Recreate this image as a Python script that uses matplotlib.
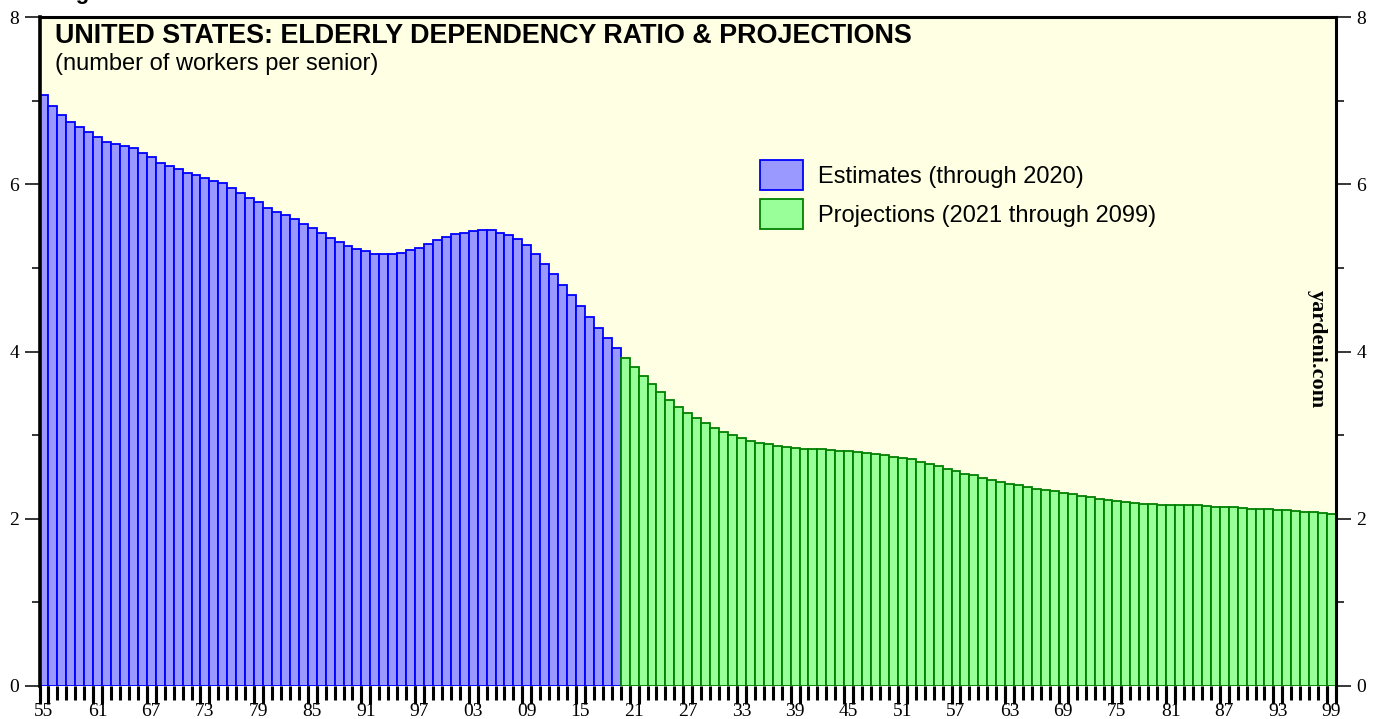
import numpy as np
import matplotlib.pyplot as plt

# elderly dependency ratio: workers per senior
est_years = np.arange(1955, 2020)
est_ratio = [7.07, 6.94, 6.83, 6.74, 6.68, 6.63, 6.56, 6.51, 6.48, 6.46,
             6.43, 6.37, 6.32, 6.26, 6.22, 6.18, 6.14, 6.11, 6.07, 6.04,
             6.02, 5.95, 5.90, 5.84, 5.79, 5.72, 5.67, 5.63, 5.58, 5.53,
             5.48, 5.42, 5.36, 5.31, 5.26, 5.23, 5.20, 5.17, 5.16, 5.17,
             5.18, 5.21, 5.24, 5.28, 5.33, 5.37, 5.40, 5.42, 5.44, 5.45,
             5.45, 5.42, 5.39, 5.34, 5.27, 5.17, 5.05, 4.93, 4.80, 4.67,
             4.54, 4.41, 4.28, 4.16, 4.04]

proj_years = np.arange(2020, 2100)
proj_ratio = [3.92, 3.81, 3.71, 3.61, 3.52, 3.42, 3.34, 3.27, 3.20, 3.14,
              3.09, 3.04, 3.00, 2.96, 2.93, 2.91, 2.89, 2.87, 2.86, 2.85,
              2.84, 2.83, 2.83, 2.82, 2.81, 2.81, 2.80, 2.79, 2.78, 2.76,
              2.74, 2.73, 2.71, 2.68, 2.66, 2.63, 2.60, 2.57, 2.54, 2.52,
              2.49, 2.46, 2.44, 2.42, 2.40, 2.38, 2.36, 2.34, 2.33, 2.31,
              2.29, 2.27, 2.26, 2.24, 2.22, 2.21, 2.20, 2.19, 2.18, 2.18,
              2.17, 2.17, 2.17, 2.16, 2.16, 2.15, 2.14, 2.14, 2.14, 2.13,
              2.12, 2.12, 2.12, 2.11, 2.10, 2.09, 2.08, 2.08, 2.07, 2.06]

label_years = np.arange(1955, 2100, 6)
tick_labels = ['%02d' % (y % 100) for y in label_years]

plt.rcParams['font.family'] = 'Liberation Serif'

W, H = 1382, 719
fig = plt.figure(figsize=(W / 100, H / 100), dpi=100)
fig.patch.set_facecolor('white')
ax = fig.add_axes([39.5 / W, 33 / H, (1336 - 39.5) / W, (686 - 17) / H])
ax.set_facecolor('#FFFFE3')

ax.bar(est_years, est_ratio, width=1.0, color='#9999FF', edgecolor='#0000FF',
       linewidth=1.3, label='Estimates (through 2020)')
ax.bar(proj_years, proj_ratio, width=1.0, color='#99FF99', edgecolor='#008000',
       linewidth=1.3, label='Projections (2021 through 2099)')

ax.set_xlim(1954.5, 2099.5)
ax.set_ylim(0, 8)

ax.spines['left'].set_linewidth(2.6)
ax.spines['top'].set_linewidth(2.2)
ax.spines['right'].set_linewidth(2.2)
ax.spines['bottom'].set_visible(False)

# y axis both sides
ax.set_yticks([0, 2, 4, 6, 8])
ax.set_yticks([1, 3, 5, 7], minor=True)
ax.tick_params(axis='y', which='both', left=True, right=True,
               labelleft=True, labelright=True, direction='out', width=1.1,
               labelsize=14, pad=4)
ax.tick_params(axis='y', which='major', length=10.5)
ax.tick_params(axis='y', which='minor', length=5.5)

# x axis: labels at bar centres, ticks at bar edges
ax.set_xticks(label_years)
ax.set_xticklabels(tick_labels)
ax.set_xticks(np.arange(1954.5, 2100, 1.0), minor=True)
ax.tick_params(axis='x', which='major', length=0, labelsize=14, pad=12)
ax.tick_params(axis='x', which='minor', length=10, width=2.2)

sec = ax.secondary_xaxis('bottom')
sec.set_xticks(np.concatenate([label_years - 0.5, label_years + 0.5]))
sec.tick_params(axis='x', length=13, width=2.2, labelbottom=False)
sec.spines['bottom'].set_visible(False)

ax.legend(loc='upper left', bbox_to_anchor=(760 / W, 1 - 160 / H),
          bbox_transform=fig.transFigure, frameon=False, borderpad=0,
          borderaxespad=0, handlelength=1.82, handleheight=1.58,
          labelspacing=0.37, handletextpad=0.64,
          prop={'family': 'Liberation Sans', 'size': 17})

fig.text(57 / W, 1 + 1 / H, 'Figure', fontsize=16, fontweight='bold',
         family='Liberation Sans', va='baseline')
fig.text(55 / W, 1 - 43 / H, 'UNITED STATES: ELDERLY DEPENDENCY RATIO & PROJECTIONS',
         fontsize=19.4, fontweight='bold', family='Liberation Sans', va='baseline')
fig.text(55 / W, 1 - 70 / H, '(number of workers per senior)',
         fontsize=17, family='Liberation Sans', va='baseline')
fig.text(1317 / W, 1 - 349 / H, 'yardeni.com', rotation=270, fontsize=16,
         fontweight='bold', ha='center', va='center')

fig.savefig('out.png', dpi=100)
